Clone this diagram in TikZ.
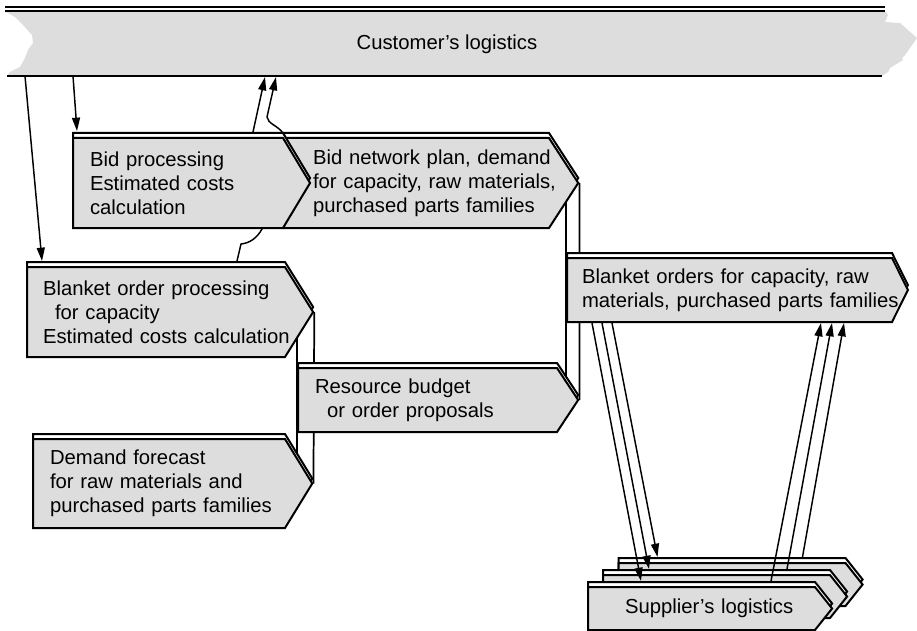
\documentclass[tikz,border=0pt]{standalone}
\usepackage{fontspec}
\setmainfont{Liberation Sans}
\usetikzlibrary{arrows.meta, shapes.symbols, shadows}
\definecolor{logigray}{RGB}{221,221,221}
\pgfdeclarelayer{band}
\pgfdeclarelayer{wires}
\pgfsetlayers{band,wires,main}

\begin{document}
\begin{tikzpicture}[
    x=0.75pt, y=-0.75pt,
    font=\fontsize{15.2pt}{18pt}\selectfont,
    chev/.style={shape=signal, signal to=east, draw, line width=1.5pt, fill=logigray,
                 align=left, inner ysep=0pt,
                 copy shadow={shadow xshift=0pt, shadow yshift=3.75pt, fill=white,
                              draw=black, line width=1.5pt}},
    supp/.style={chev, text width=170.25pt, inner xsep=0pt, minimum height=32.25pt,
                 signal pointer angle=103},
    wire/.style={line width=1.3pt},
    arr/.style={-{Triangle[length=10pt, width=6pt]}, line width=1.1pt}
]
    \useasboundingbox (0,0) rectangle (917,631);

    % customer band
    \begin{pgfonlayer}{band}
        \fill[logigray] (6,12) -- (886,12) -- (888,15) -- (885,22) -- (900,23) -- (917,38)
            -- (905,55) -- (902,58) -- (903,60) -- (890,68) -- (888,72) -- (882,76)
            -- (7,76) -- (10,72) -- (20,67) -- (25,58) -- (28,50) -- (33,43)
            -- (32,35) -- (23,25) -- (15,17) -- cycle;
        \draw[line width=1.1pt] (5,7) -- (885,7);
        \draw[line width=1.1pt] (5,11) -- (885,11);
        \draw[line width=1.5pt] (7,76) -- (882,76);
    \end{pgfonlayer}
    \node (cust) at (447,44) {Customer’s logistics};
    \coordinate (cA) at (25,76);
    \coordinate (cB) at (73,76);
    \coordinate (cC) at (265,77);
    \coordinate (cD) at (276,77);

    \node[chev, text width=155.25pt, inner xsep=21.75pt, minimum height=67.5pt,
          signal pointer angle=114] (bn) at (416.5,183)
        {\mbox{Bid network plan, demand}\\\mbox{for capacity, raw materials,}\\\mbox{purchased parts families}};
    \node[chev, text width=132pt, inner xsep=12.75pt, minimum height=67.5pt,
          signal pointer angle=118] (bid) at (178,183)
        {Bid processing\\Estimated costs\\calculation};
    \node[chev, text width=169.5pt, inner xsep=12pt, minimum height=67.5pt,
          signal pointer angle=116] (bo) at (156,312)
        {\mbox{Blanket order processing}\\\hspace*{9pt}for capacity\\\mbox{Estimated costs calculation}};
    \node[chev, text width=163.5pt, inner xsep=12.75pt, minimum height=66.75pt,
          signal pointer angle=117] (fc) at (159,483.5)
        {Demand forecast\\\mbox{for raw materials and}\\\mbox{purchased parts families}};
    \node[chev, text width=168.75pt, inner xsep=12.75pt, minimum height=48pt,
          signal pointer angle=113] (rb) at (427.5,400)
        {Resource budget\\\hspace*{9pt}or order proposals};
    \node[chev, text width=221.25pt, inner xsep=11.25pt, minimum height=48pt,
          signal pointer angle=127] (bl) at (729.5,290)
        {\mbox{Blanket orders for capacity, raw}\\\mbox{materials, purchased parts families}};

    \node[supp] (s3) at (732,584.5) {};
    \node[supp] (s2) at (716.5,596.5) {};
    \node[supp, text width=114.75pt, inner xsep=27.75pt] (s1) at (701.5,608.5)
        {\mbox{Supplier’s logistics}};

    \begin{pgfonlayer}{wires}
        \draw[arr] (cA) -- ([xshift=12pt, yshift=3.75pt]bo.north west);
        \draw[arr] (cB) -- ([xshift=3.75pt, yshift=4.5pt]bid.north west);
        \draw[arr] ([xshift=135.75pt, yshift=3.75pt]bid.north west) -- (cC);
        \draw[arr] ([xshift=158.25pt, yshift=3.75pt]bo.north west) -- (241,244)
            .. controls (250,243) and (257,238) .. (262,229) -- (283,133)
            .. controls (277,125) and (268,124) .. (267,117) -- (cD);
        \draw[wire] (bo.east) -- (fc.east);
        \draw[wire] (rb.west |- bo.east) -- (rb.west |- fc.east);
        \draw[wire] (bn.east) -- (rb.east);
        \draw[wire] (bl.west |- bn.east) -- (bl.west |- rb.east);
    \end{pgfonlayer}

    \draw[arr] ([xshift=19.5pt]bl.south west) -- ([xshift=40.5pt, yshift=3.75pt]s1.north west);
    \draw[arr] ([xshift=27pt]bl.south west) -- ([xshift=35.25pt, yshift=3.75pt]s2.north west);
    \draw[arr] ([xshift=34.5pt]bl.south west) -- ([xshift=30pt, yshift=3.75pt]s3.north west);
    \draw[arr] ([xshift=138pt, yshift=3.75pt]s1.north west) -- ([xshift=191.25pt]bl.south west);
    \draw[arr] ([xshift=138.75pt, yshift=3.75pt]s2.north west) -- ([xshift=199.5pt]bl.south west);
    \draw[arr] ([xshift=138.75pt, yshift=3.75pt]s3.north west) -- ([xshift=208.5pt]bl.south west);
\end{tikzpicture}
\end{document}
